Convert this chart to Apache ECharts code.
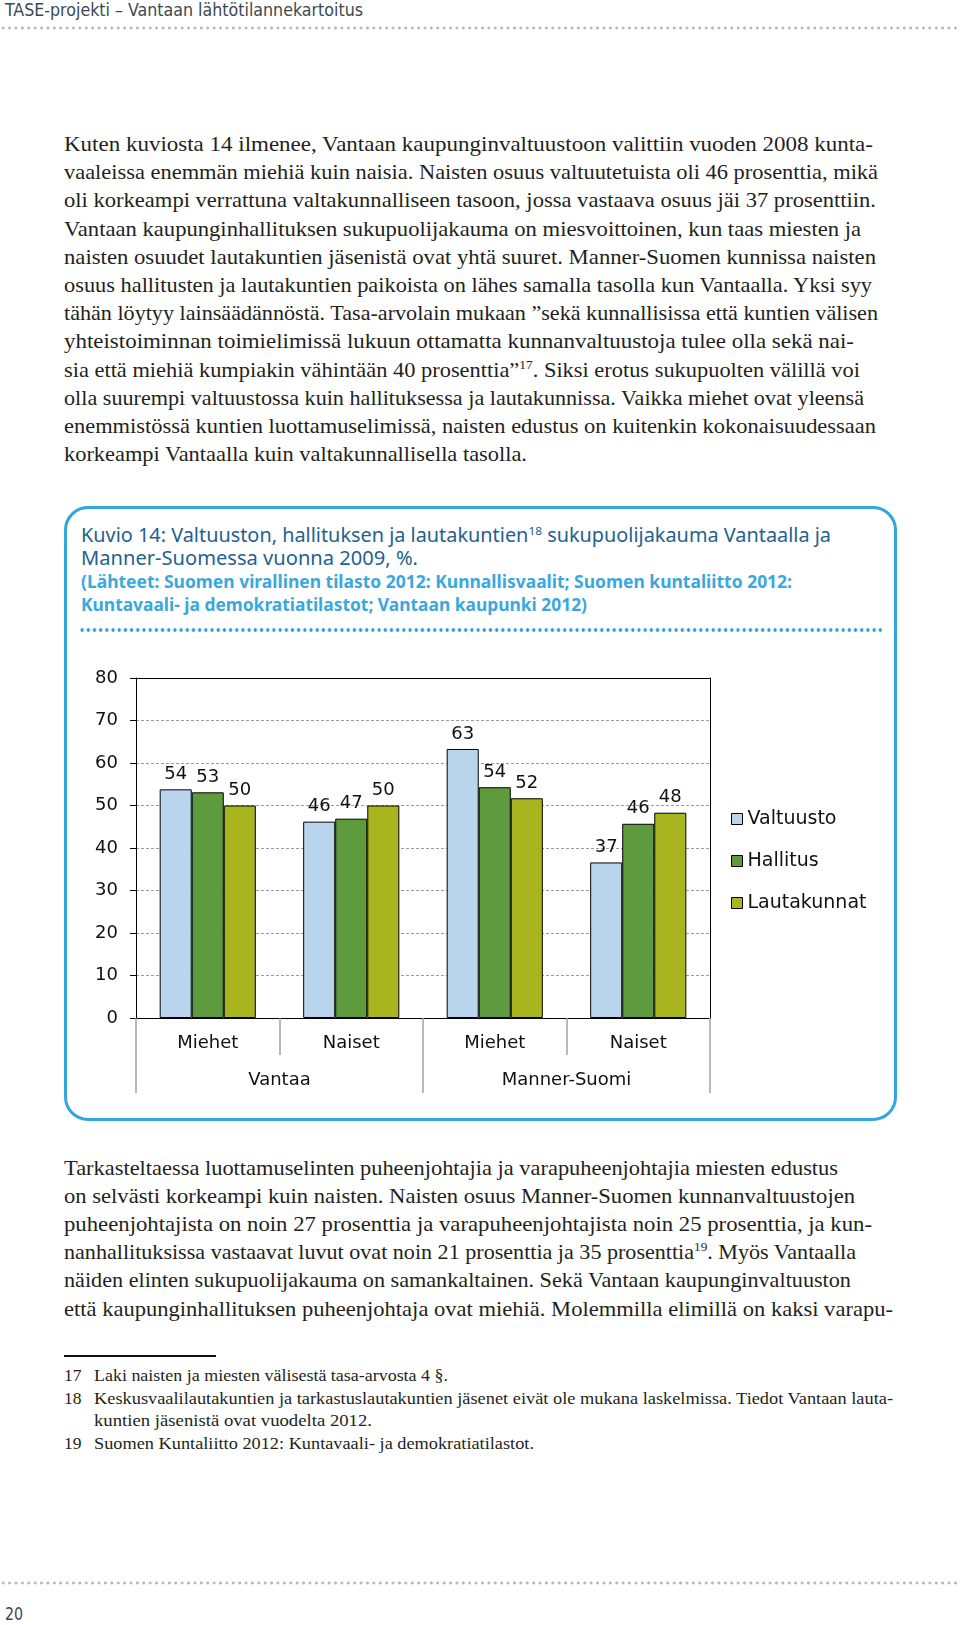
<!DOCTYPE html>
<html><head><meta charset="utf-8">
<script src="https://cdn.jsdelivr.net/npm/echarts@6/dist/echarts.min.js"></script>
<style>
html,body{margin:0;padding:0;background:#fff;}
#page{position:relative;width:960px;height:1625px;overflow:hidden;background:#fff;}
.ln{position:absolute;white-space:nowrap;transform-origin:0 50%;}
.hdr{font-family:'Liberation Sans Narrow','DejaVu Sans Condensed',sans-serif;font-size:17px;color:#3d4852;line-height:20px;}
.body{font-family:'Liberation Serif',serif;font-size:22px;color:#231f20;line-height:28px;height:28px;}
.fn{font-family:'Liberation Serif',serif;font-size:17.5px;color:#231f20;line-height:22px;height:22px;}
.ttl{font-family:'Noto Sans',sans-serif;font-size:19px;color:#24618f;line-height:23px;}
.src{font-family:'Noto Sans',sans-serif;font-size:17px;font-weight:bold;color:#3aa8dd;line-height:22px;}
sup{font-size:60%;line-height:0;vertical-align:super;}
.dots{position:absolute;height:4px;background-repeat:repeat-x;}
#box{position:absolute;left:64px;top:506px;width:833px;height:615px;box-sizing:border-box;border:3px solid #33a6dc;border-radius:24px;}
#chart{position:absolute;left:0;top:0;width:960px;height:1625px;z-index:2;}
</style></head>
<body><div id="page">
<div class="dots" style="left:0;top:26px;width:960px;background-image:radial-gradient(circle,#b9b9b9 1.3px,transparent 1.8px);background-size:6.4px 4px;"></div>
<div class="dots" style="left:0;top:1581px;width:960px;background-image:radial-gradient(circle,#b9b9b9 1.3px,transparent 1.8px);background-size:6.4px 4px;"></div>
<div id="box"></div>
<div class="dots" style="left:79px;top:628px;width:803px;background-image:radial-gradient(circle,#2f9fd8 1.5px,transparent 2px);background-size:6.2px 4px;"></div>
<div style="position:absolute;left:64px;top:1355px;width:152px;height:2px;background:#111;"></div>
<div id="chart"></div>
</div>
<script>
// ---- chart data ----
const categories = ['Miehet', 'Naiset', 'Miehet', 'Naiset'];
const regions = ['Vantaa', 'Manner-Suomi'];
const seriesNames = ['Valtuusto', 'Hallitus', 'Lautakunnat'];
const valtuusto = [53.8, 46.2, 63.3, 36.6];
const hallitus = [53.1, 46.9, 54.3, 45.7];
const lautakunnat = [50.0, 50.0, 51.7, 48.3];
const yMin = 0, yMax = 80, yStep = 10;
const seriesColors = ['#b9d5ee', '#5e9b3e', '#a8b51f'];

// ---- page texts ----
const headerText = 'TASE-projekti – Vantaan lähtötilannekartoitus';
const pageNumber = '20';
const titleLines = ['Kuvio 14: Valtuuston, hallituksen ja lautakuntien<sup>18</sup> sukupuolijakauma Vantaalla ja',
  'Manner-Suomessa vuonna 2009, %.'];
const sourceLines = ['(Lähteet: Suomen virallinen tilasto 2012: Kunnallisvaalit; Suomen kuntaliitto 2012:',
  'Kuntavaali- ja demokratiatilastot; Vantaan kaupunki 2012)'];
const para1 = [
  'Kuten kuviosta 14 ilmenee, Vantaan kaupunginvaltuustoon valittiin vuoden 2008 kunta-',
  'vaaleissa enemmän miehiä kuin naisia. Naisten osuus valtuutetuista oli 46 prosenttia, mikä',
  'oli korkeampi verrattuna valtakunnalliseen tasoon, jossa vastaava osuus jäi 37 prosenttiin.',
  'Vantaan kaupunginhallituksen sukupuolijakauma on miesvoittoinen, kun taas miesten ja',
  'naisten osuudet lautakuntien jäsenistä ovat yhtä suuret. Manner-Suomen kunnissa naisten',
  'osuus hallitusten ja lautakuntien paikoista on lähes samalla tasolla kun Vantaalla. Yksi syy',
  'tähän löytyy lainsäädännöstä. Tasa-arvolain mukaan ”sekä kunnallisissa että kuntien välisen',
  'yhteistoiminnan toimielimissä lukuun ottamatta kunnanvaltuustoja tulee olla sekä nai-',
  'sia että miehiä kumpiakin vähintään 40 prosenttia”<sup>17</sup>. Siksi erotus sukupuolten välillä voi',
  'olla suurempi valtuustossa kuin hallituksessa ja lautakunnissa. Vaikka miehet ovat yleensä',
  'enemmistössä kuntien luottamuselimissä, naisten edustus on kuitenkin kokonaisuudessaan',
  'korkeampi Vantaalla kuin valtakunnallisella tasolla.'];
const para2 = [
  'Tarkasteltaessa luottamuselinten puheenjohtajia ja varapuheenjohtajia miesten edustus',
  'on selvästi korkeampi kuin naisten. Naisten osuus Manner-Suomen kunnanvaltuustojen',
  'puheenjohtajista on noin 27 prosenttia ja varapuheenjohtajista noin 25 prosenttia, ja kun-',
  'nanhallituksissa vastaavat luvut ovat noin 21 prosenttia ja 35 prosenttia<sup>19</sup>. Myös Vantaalla',
  'näiden elinten sukupuolijakauma on samankaltainen. Sekä Vantaan kaupunginvaltuuston',
  'että kaupunginhallituksen puheenjohtaja ovat miehiä. Molemmilla elimillä on kaksi varapu-'];
const footNums = ['17', '18', '', '19'];
const footTexts = [
  'Laki naisten ja miesten välisestä tasa-arvosta 4 §.',
  'Keskusvaalilautakuntien ja tarkastuslautakuntien jäsenet eivät ole mukana laskelmissa. Tiedot Vantaan lauta-',
  'kuntien jäsenistä ovat vuodelta 2012.',
  'Suomen Kuntaliitto 2012: Kuntavaali- ja demokratiatilastot.'];

// ---- layout (positions kept separate) ----
const para1Right = [873, 878, 876, 861, 876, 872, 878, 854, 860, 864, 876, 527];
const para2Right = [838, 855, 872, 856, 851, 893];
const footRight = [448, 893, 372, 534];

const page = document.getElementById('page');
function addLine(cls, html, left, centerY, right, lh) {
  const d = document.createElement('div');
  d.className = 'ln ' + cls;
  d.innerHTML = html;
  d.style.left = left + 'px';
  d.style.top = (centerY - lh / 2) + 'px';
  page.appendChild(d);
  if (right) {
    const w = d.getBoundingClientRect().width;
    d.style.transform = 'scaleX(' + ((right - left) / w).toFixed(4) + ')';
  }
  return d;
}
addLine('hdr', headerText, 5, 10, 363, 20);
addLine('hdr', pageNumber, 5, 1614, 23, 20);
para1.forEach((t, i) => addLine('body', t, 64, 144 + i * 28.2, para1Right[i], 28));
para2.forEach((t, i) => addLine('body', t, 64, 1167.5 + i * 28.2, para2Right[i], 28));
footTexts.forEach((t, i) => {
  const cy = 1375 + i * 22.6;
  if (footNums[i]) addLine('fn', footNums[i], 64, cy, null, 22);
  addLine('fn', t, 94, cy, footRight[i], 22);
});
addLine('ttl', titleLines[0], 81, 535, 831, 23);
addLine('ttl', titleLines[1], 81, 558, 418, 23);
addLine('src', sourceLines[0], 81, 582, 792, 22);
addLine('src', sourceLines[1], 81, 605, 587, 22);

// ---- chart ----
const FONT = 'DejaVu Sans';
const chart = echarts.init(document.getElementById('chart'), null, {renderer: 'canvas'});
const seriesData = [valtuusto, hallitus, lautakunnat];
const series = seriesNames.map((name, i) => ({
  name: name,
  type: 'bar',
  xAxisIndex: 0,
  yAxisIndex: 0,
  data: seriesData[i],
  barGap: '0%',
  barCategoryGap: '33%',
  itemStyle: {color: seriesColors[i], borderColor: '#000', borderWidth: 1},
  label: {show: true, position: 'top', distance: 6, fontSize: 18, fontFamily: FONT, color: '#111',
    formatter: p => String(Math.round(p.value))},
  animation: false
}));
series[0].markLine = {
  silent: true, symbol: ['none', 'none'], animation: false,
  label: {show: false},
  lineStyle: {color: '#000', type: 'solid', width: 1},
  data: [{yAxis: yMax}]
};
chart.setOption({
  animation: false,
  grid: {left: 136, right: 250, top: 678, bottom: 607, containLabel: false},
  legend: {
    orient: 'vertical', left: 731, top: 809, padding: 0,
    data: seriesNames, icon: 'rect', itemWidth: 11, itemHeight: 11, itemGap: 22,
    itemStyle: {borderColor: '#000', borderWidth: 1},
    textStyle: {fontSize: 19, fontFamily: FONT, color: '#111', lineHeight: 20}
  },
  xAxis: [
    {type: 'category', data: categories, position: 'bottom',
      axisLine: {show: true, lineStyle: {color: '#000', width: 1}},
      axisTick: {show: true, interval: 0, length: 37, lineStyle: {color: '#a3a3a3', width: 1.5}},
      axisLabel: {interval: 0, margin: 16, fontSize: 18, fontFamily: FONT, color: '#111'},
      splitLine: {show: false}},
    {type: 'category', data: regions, position: 'bottom',
      axisLine: {show: false},
      axisTick: {show: true, interval: 0, length: 75, lineStyle: {color: '#a3a3a3', width: 1.5}},
      axisLabel: {interval: 0, margin: 53, fontSize: 18, fontFamily: FONT, color: '#111'},
      splitLine: {show: false}}
  ],
  yAxis: [
    {type: 'value', min: yMin, max: yMax, interval: yStep,
      axisLine: {show: true, lineStyle: {color: '#000', width: 1}},
      axisTick: {show: true, length: 6, lineStyle: {color: '#000'}},
      axisLabel: {margin: 18, fontSize: 18, fontFamily: FONT, color: '#111'},
      splitLine: {show: true, lineStyle: {color: '#9c9c9c', type: [3, 2], width: 1}}},
    {type: 'value', min: yMin, max: yMax, interval: yStep, position: 'right',
      axisLine: {show: true, lineStyle: {color: '#000', width: 1}},
      axisTick: {show: false}, axisLabel: {show: false}, splitLine: {show: false}}
  ],
  series: series
});
</script>
</body></html>
